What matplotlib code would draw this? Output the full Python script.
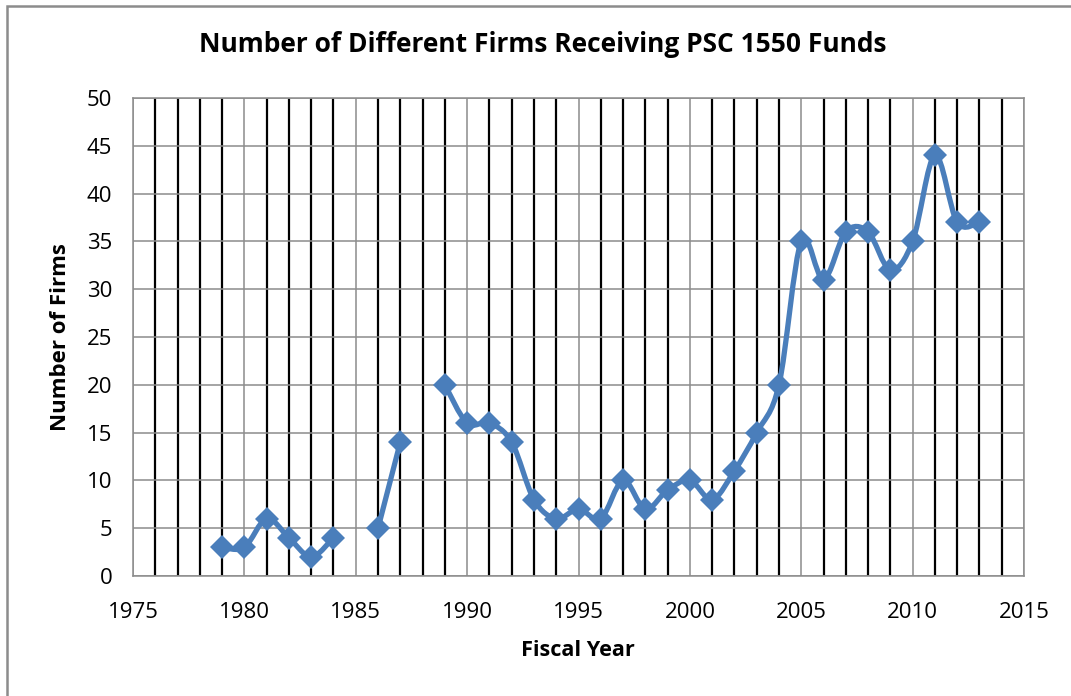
import matplotlib

matplotlib.use("Agg")
import matplotlib.pyplot as plt
import numpy as np
from matplotlib.path import Path
from matplotlib.patches import PathPatch, Rectangle

plt.rcParams["font.family"] = ["Open Sans", "DejaVu Sans"]

# 数据: 每个财年获得 PSC 1550 资金的公司数 (None 表示缺失年份)
years = [1979, 1980, 1981, 1982, 1983, 1984, 1985, 1986, 1987, 1988,
         1989, 1990, 1991, 1992, 1993, 1994, 1995, 1996, 1997, 1998,
         1999, 2000, 2001, 2002, 2003, 2004, 2005, 2006, 2007, 2008,
         2009, 2010, 2011, 2012, 2013]
firms = [3, 3, 6, 4, 2, 4, None, 5, 14, None,
         20, 16, 16, 14, 8, 6, 7, 6, 10, 7,
         9, 10, 8, 11, 15, 20, 35, 31, 36, 36,
         32, 35, 44, 37, 37]

x_ticks = [1975, 1980, 1985, 1990, 1995, 2000, 2005, 2010, 2015]
y_ticks = [0, 5, 10, 15, 20, 25, 30, 35, 40, 45, 50]

BLUE = "#4A7EBB"


def smooth_path(xs, ys):
    """Excel 风格的平滑线: 用三次 Bezier 曲线连接相邻点."""
    verts, codes = [], []
    n = len(xs)
    pts = np.column_stack([xs, ys]).astype(float)
    verts.append(pts[0])
    codes.append(Path.MOVETO)
    for i in range(n - 1):
        p0 = pts[i - 1] if i > 0 else pts[i]
        p1 = pts[i]
        p2 = pts[i + 1]
        p3 = pts[i + 2] if i + 2 < n else pts[i + 1]
        c1 = p1 + (p2 - p0) / 6
        c2 = p2 - (p3 - p1) / 6
        verts += [c1, c2, p2]
        codes += [Path.CURVE4] * 3
    return Path(verts, codes)


def segments(xs, ys):
    seg_x, seg_y = [], []
    for x, y in zip(xs, ys):
        if y is None:
            if seg_x:
                yield seg_x, seg_y
            seg_x, seg_y = [], []
        else:
            seg_x.append(x)
            seg_y.append(y)
    if seg_x:
        yield seg_x, seg_y


def main():
    fig = plt.figure(figsize=(10.71, 6.96), dpi=100)
    ax = fig.add_axes([133 / 1071, 120 / 696, 891 / 1071, 478 / 696])

    for sx, sy in segments(years, firms):
        if len(sx) > 1:
            ax.add_patch(PathPatch(smooth_path(sx, sy), facecolor="none",
                                   edgecolor=BLUE, lw=3.8, zorder=3,
                                   capstyle="round", joinstyle="round"))
    xs = [x for x, y in zip(years, firms) if y is not None]
    ys = [y for y in firms if y is not None]
    ax.plot(xs, ys, linestyle="none", marker="D", markersize=12.5,
            color=BLUE, markeredgewidth=0, zorder=4)

    ax.set_xlim(1975, 2015)
    ax.set_ylim(0, 50)
    ax.set_xticks(x_ticks)
    ax.set_yticks(y_ticks)
    minor = [y for y in range(1976, 2015) if y % 5 != 0]
    ax.set_xticks(minor, minor=True)

    ax.grid(True, which="major", axis="both", color="#8C8C8C", lw=1.1)
    ax.grid(True, which="minor", axis="x", color="black", lw=1.6)
    ax.set_axisbelow(True)
    for sp in ax.spines.values():
        sp.set_color("#8C8C8C")
        sp.set_linewidth(1.1)

    ax.tick_params(which="both", length=0, labelsize=16)
    ax.tick_params(axis="x", pad=19)
    ax.tick_params(axis="y", pad=15)

    fig.text(543 / 1071, 1 - 45 / 696,
             "Number of Different Firms Receiving PSC 1550 Funds",
             ha="center", va="center", fontsize=19, fontweight="bold")
    fig.text(578 / 1071, 1 - 650 / 696, "Fiscal Year", ha="center",
             va="center", fontsize=15.6, fontweight="bold")
    fig.text(60 / 1071, 1 - 337 / 696, "Number of Firms", ha="center",
             va="center", fontsize=16, fontweight="bold", rotation=90)

    fig.patches.append(Rectangle((7 / 1071, -0.1), 1.2, 1.1 - 5 / 696 - 0.002,
                                 transform=fig.transFigure, fill=False,
                                 edgecolor="#8C8C8C", lw=1.8))

    fig.savefig("out.png", dpi=100)


if __name__ == "__main__":
    main()
